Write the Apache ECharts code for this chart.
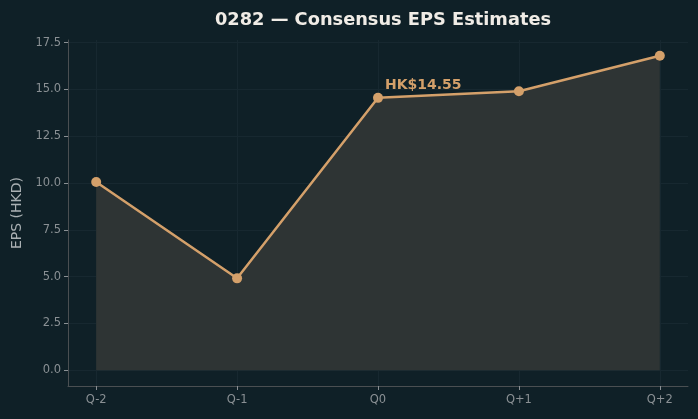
<!DOCTYPE html>
<html>
<head>
<meta charset="utf-8">
<script src="https://cdn.jsdelivr.net/npm/echarts@6/dist/echarts.min.js"></script>
<style>
  html, body { margin: 0; padding: 0; background: #0f2027; }
  #chart { width: 698px; height: 419px; }
</style>
</head>
<body>
<div id="chart"></div>
<script>
var categories = ['Q-2', 'Q-1', 'Q0', 'Q+1', 'Q+2'];
var epsValues = [10.06, 4.91, 14.55, 14.9, 16.8];
var yTicks = [0, 2.5, 5, 7.5, 10, 12.5, 15, 17.5];
var highlightIndex = 2;

var chart = echarts.init(document.getElementById('chart'));

var xTicks = categories.map(function (c, i) { return i; });
var seriesData = epsValues.map(function (v, i) {
  var item = { value: [i, v] };
  if (i === highlightIndex) {
    item.label = {
      show: true,
      position: [12, -14],
      align: 'left',
      formatter: function (p) { return 'HK$' + p.value[1].toFixed(2); },
      color: '#d4a06a',
      fontWeight: 'bold',
      fontSize: 14,
      fontFamily: 'DejaVu Sans'
    };
  }
  return item;
});

var option = {
  backgroundColor: '#0f2027',
  animation: false,
  title: {
    text: '0282 — Consensus EPS Estimates',
    left: 378,
    textAlign: 'center',
    top: 6,
    textStyle: { color: '#f0ece6', fontSize: 17.8, fontWeight: 'bold', fontFamily: 'DejaVu Sans' }
  },
  grid: { left: 68, right: 10, top: 40, bottom: 33 },
  xAxis: {
    type: 'value',
    min: -0.2,
    max: 4.2,
    axisLine: { show: true, onZero: false, lineStyle: { color: '#4a4f52' } },
    axisTick: { show: true, customValues: xTicks, length: 4, lineStyle: { color: '#8a9094' } },
    axisLabel: {
      customValues: xTicks,
      color: '#8a9094',
      fontSize: 11.5,
      fontFamily: 'DejaVu Sans',
      margin: 8,
      formatter: function (v) { return categories[Math.round(v)]; }
    },
    splitLine: { show: true, lineStyle: { color: '#172830', width: 1 } }
  },
  yAxis: {
    type: 'value',
    min: -0.84,
    max: 17.64,
    name: 'EPS (HKD)',
    nameLocation: 'middle',
    nameGap: 44,
    nameTextStyle: { color: '#aab0b3', fontSize: 14, fontFamily: 'DejaVu Sans' },
    axisLine: { show: true, onZero: false, lineStyle: { color: '#4a4f52' } },
    axisTick: { show: true, customValues: yTicks, length: 4, lineStyle: { color: '#8a9094' } },
    axisLabel: {
      customValues: yTicks,
      color: '#8a9094',
      fontSize: 11.5,
      fontFamily: 'DejaVu Sans',
      margin: 7,
      formatter: function (v) { return v.toFixed(1); }
    },
    splitLine: { show: true, lineStyle: { color: '#172830', width: 1 } }
  },
  series: [{
    type: 'line',
    data: seriesData,
    symbol: 'circle',
    symbolSize: 10,
    lineStyle: { color: '#d4a06a', width: 2.5 },
    itemStyle: { color: '#d4a06a' },
    areaStyle: { color: '#2e3434', opacity: 1, origin: 0 }
  }]
};

chart.setOption(option);
</script>
</body>
</html>
